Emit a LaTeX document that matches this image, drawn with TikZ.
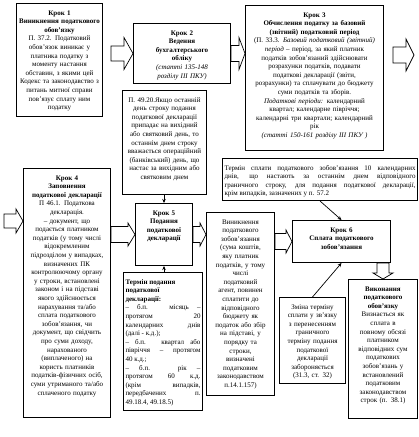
\documentclass[tikz,border=0pt]{standalone}
\usepackage{fontspec}
\setmainfont{Liberation Serif}
\usetikzlibrary{calc,arrows.meta}
\tikzset{
  stepbox/.style={draw, line width=1pt, anchor=north west, inner sep=2pt,
    align=center, font=\fontsize{7}{8.6}\selectfont, text height=9.5pt},
  blockarrow/.style n args={3}{line width=0.7pt, to path={
    ($(\tikztotarget)!#3pt!(\tikztostart)$) coordinate (bahead)
    ($(\tikztostart)!#1pt!90:(\tikztotarget)$)
    -- ($(bahead)!#1pt!90:(\tikztotarget)$)
    -- ($(bahead)!#2pt!90:(\tikztotarget)$)
    -- (\tikztotarget)
    -- ($(bahead)!#2pt!-90:(\tikztotarget)$)
    -- ($(bahead)!#1pt!-90:(\tikztotarget)$)
    -- ($(\tikztostart)!#1pt!-90:(\tikztotarget)$)
    -- cycle}},
  thinarrow/.style={-{Stealth[length=4pt,width=3.5pt]}, line width=0.7pt}
}

\begin{document}
\begin{tikzpicture}[x=1pt,y=-1pt]
  \useasboundingbox (0,0) rectangle (419,437);

  \node[stepbox, text width=82pt, text depth=99.5pt] (krok1) at (16,3)
    {\textbf{Крок 1}\\ \textbf{Виникнення податкового}\\ \textbf{обов’язку}\\
     П. 37.2. Податковий\\ обов’язок виникає у\\ платника податку з\\
     моменту настання\\ обставин, з якими цей\\ Кодекс та законодавство з\\
     питань митної справи\\ пов’язує сплату ним\\ податку};
  \node[stepbox, text width=93pt, text depth=46.5pt] (krok2) at (133,23)
    {\textbf{Крок 2}\\ \textbf{Ведення}\\ \textbf{бухгалтерського}\\ \textbf{обліку}\\
     \textit{(статті 135-148}\\ \textit{розділу III ПКУ)}};
  \node[stepbox, text width=134pt, text depth=131.5pt] (krok3) at (245,5)
    {\textbf{Крок 3}\\ \textbf{Обчислення податку за базовий}\\ \textbf{(звітний) податковий період}\\
     (П. 33.3. \textit{Базовий податковий (звітний)}\\ \textit{період} – період, за який платник\\
     податків зобов’язаний здійснювати\\ розрахунки податків, подавати\\
     податкові декларації (звіти,\\ розрахунки) та сплачувати до бюджету\\
     суми податків та зборів.\\ \textit{Податкові періоди:} календарний\\
     квартал; календарне півріччя;\\ календарні три квартали; календарний\\
     рік\\ \textit{(статті 150-161 розділу III ПКУ )}};
  \node[stepbox, text width=80pt, text depth=90.5pt] (prym) at (122,90)
    {П. 49.20.Якщо останній\\ день строку подання\\ податкової декларації\\
     припадає на вихідний\\ або святковий день, то\\ останнім днем строку\\
     вважається операційний\\ (банківський) день, що\\ настає за вихідним або\\
     святковим днем};
  \node[stepbox, text width=83pt, text depth=235.5pt] (krok4) at (23,168)
    {\textbf{Крок 4}\\ \textbf{Заповнення}\\ \textbf{податкової декларації}\\
     П 46.1. Податкова\\ декларація.\\ – документ, що\\ подається платником\\
     податків (у тому числі\\ відокремленим\\ підрозділом у випадках,\\
     визначених ПК\\ контролюючому органу\\ у строки, встановлені\\
     законом і на підставі\\ якого здійснюється\\ нарахування та/або\\
     сплата податкового\\ зобов’язання, чи\\ документ, що свідчить\\
     про суми доходу,\\ нарахованого\\ (виплаченого) на\\ користь платників\\
     податків-фізичних осіб,\\ суми утриманого та/або\\ сплаченого податку};
  \node[stepbox, text width=53pt, text depth=48.5pt] (krok5) at (135,203)
    {\textbf{Крок 5}\\ \textbf{Подання}\\ \textbf{податкової}\\ \textbf{декларації}};
  \node[stepbox, align=justify, text width=75pt, text depth=124.5pt] (termpod) at (123,272)
    {\textbf{Термін подання}\\ \textbf{податкової}\\ \textbf{декларації:}\\
     – б.п. місяць –\linebreak протягом 20\linebreak календарних днів\linebreak
     (далі - к.д.);\\ – б.п. квартал або\linebreak півріччя – протягом\linebreak
     40 к.д.;\\ – б.п. рік –\linebreak протягом 60 к.д.\linebreak (крім випадків,\linebreak
     передбачених п.\linebreak 49.18.4, 49.18.5)};
  \node[stepbox, text width=64pt, text depth=169.5pt] (vynyk) at (206,212)
    {Виникнення\\ податкового\\ зобов’язання\\ (сума коштів,\\ яку платник\\
     податків, у тому\\ числі\\ податковий\\ агент, повинен\\ сплатити до\\
     відповідного\\ бюджету як\\ податок або збір\\ на підставі, у\\ порядку та\\
     строки,\\ визначені\\ податковим\\ законодавством\\ п.14.1.157)};
  \node[stepbox, align=justify, text width=191pt, text depth=28.5pt] (termsplat) at (222,158)
    {Термін сплати податкового зобов’язання 10 календарних\linebreak
     днів, що настають за останнім днем відповідного\linebreak
     граничного строку, для подання податкової декларації,\linebreak
     крім випадків, зазначених у п. 57.2};
  \node[stepbox, text width=94pt, text depth=28.5pt] (krok6) at (292,220)
    {\textbf{Крок 6}\\ \textbf{Сплата податкового}\\ \textbf{зобов’язання}};
  \node[stepbox, text width=62pt, text depth=72.5pt] (zmina) at (279,297)
    {Зміна терміну\\ сплати у зв’язку\\ з перенесенням\\ граничного\\
     терміну подання\\ податкової\\ декларації\\ забороняється\\ (31.3, ст. 32)};
  \node[stepbox, text width=65pt, text depth=125.5pt] (vykon) at (348,279)
    {\textbf{Виконання}\\ \textbf{податкового}\\ \textbf{обов’язку}\\ Визнається як\\
     сплата в\\ повному обсязі\\ платником\\ відповідних сум\\ податкових\\
     зобов’язань у\\ встановлений\\ податковим\\ законодавством\\ строк (п. 38.1)};

  \coordinate (from12) at ($(krok1.east |- krok2.west)+(8,0)$);
  \coordinate (out3) at (414,55);
  \coordinate (from3) at ($(krok3.east |- out3)+(9,0)$);
  \coordinate (in4) at (4,221);

  \draw[blockarrow={7.5}{16}{9}] (from12) to (krok2.west);
  \draw[blockarrow={8}{16}{6}] (krok2.east) to (krok3.west |- krok2.east);
  \draw[blockarrow={8}{16}{8}] (from3) to (out3);
  \draw[blockarrow={7}{12}{7}] (in4) to (krok4.west |- in4);
  \draw[blockarrow={8}{11.5}{7}] (krok4.east |- krok5.west) to (krok5.west);
  \draw[blockarrow={8}{11.5}{6}] (krok5.east) to (vynyk.west |- krok5.east);
  \draw[blockarrow={8}{11.5}{6}] (vynyk.east |- krok6.west) to (krok6.west);
  \draw[blockarrow={6}{10}{6}] (krok6.south -| vykon.north) to (vykon.north);

  \draw[thinarrow] (prym.south -| krok5.north) -- (krok5.north);
  \draw[thinarrow] (termpod.north -| krok5.south) -- (krok5.south);
  \draw[thinarrow] (termsplat.south) -- (krok6.north);
  \draw[thinarrow] (zmina.north) -- (krok6.south);
\end{tikzpicture}
\end{document}
